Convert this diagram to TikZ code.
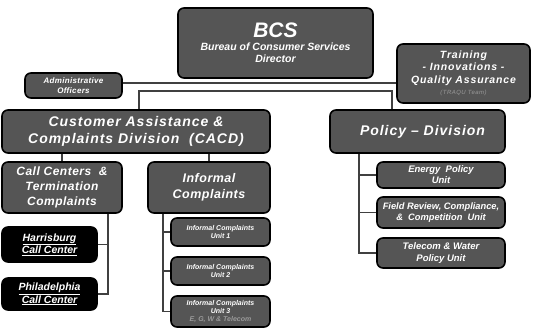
\documentclass[tikz,border=0pt]{standalone}
\usepackage{fontspec}
\setmainfont{Liberation Sans}
\newcommand{\fsz}[2]{\fontsize{#1}{#2}\selectfont}
\begin{document}
\begin{tikzpicture}[x=1pt,y=-1pt,
  box/.style={draw=black,line width=1.6pt,fill=boxgray,rounded corners=6pt,
    text=white,align=center,inner sep=0pt},
  callbox/.style={box,fill=black},
  link/.style={draw=linegray,line width=1.5pt}]
  \tikzstyle{every node}+=[inner sep=0pt]
  \definecolor{boxgray}{HTML}{555555}
  \definecolor{linegray}{HTML}{404040}
  \definecolor{subgray}{HTML}{9A9A9A}
  \useasboundingbox (0,0) rectangle (535,328);
  \node [box,minimum width=195pt,minimum height=70pt,
    font=\bfseries\itshape\fsz{10.5}{12}] (bcs) at (275.5,43)
    {{\fsz{21}{22}BCS}\\[1pt] Bureau of Consumer Services\\ Director};
  \node [box,minimum width=97pt,minimum height=25pt,
    font=\bfseries\itshape\fsz{8}{9.5}\addfontfeatures{LetterSpace=4}] (admin) at (73.5,85.5)
    {Administrative\\ Officers};
  \node [box,minimum width=133pt,minimum height=59pt,
    font=\bfseries\itshape\fsz{10.5}{12.5}\addfontfeatures{LetterSpace=8}] (train) at (463.5,73.5)
    {Training\\ - Innovations -\\ Quality Assurance\\[-1pt]
     {\color{subgray}\mdseries\fsz{6}{7}(TRAQU Team)}};
  \node [box,minimum width=268pt,minimum height=43pt,
    font=\bfseries\itshape\fsz{14}{17}\addfontfeatures{LetterSpace=7}] (cacd) at (136,131.5)
    {Customer Assistance \&\\ Complaints Division~~(CACD)};
  \node [box,minimum width=175pt,minimum height=43pt,
    font=\bfseries\itshape\fsz{14}{17}\addfontfeatures{LetterSpace=7}] (policy) at (417.5,131.5)
    {\hspace*{10pt}Policy -- Division};
  \node [box,minimum width=120pt,minimum height=51pt,
    font=\bfseries\itshape\fsz{12}{15}\addfontfeatures{LetterSpace=4}] (calls) at (62,187.5)
    {Call Centers~~\&\\ Termination\\ Complaints};
  \node [box,minimum width=122pt,minimum height=51pt,
    font=\bfseries\itshape\fsz{12.5}{15.5}\addfontfeatures{LetterSpace=4}] (informal) at (209,187.5)
    {Informal\\ Complaints};
  \node [callbox,minimum width=95pt,minimum height=35pt,
    font=\bfseries\itshape\fsz{10.5}{12.5}] (harris) at (49.5,244.5)
    {\underline{Harrisburg}\\ \underline{Call Center}};
  \node [callbox,minimum width=95pt,minimum height=32pt,
    font=\bfseries\itshape\fsz{10.5}{12.5}] (phila) at (49.5,294)
    {\underline{Philadelphia}\\ \underline{Call Center}};
  \node [box,minimum width=99pt,minimum height=28pt,
    font=\bfseries\itshape\fsz{7}{8.5}] (unitA) at (220.5,232)
    {Informal Complaints\\ Unit 1};
  \node [box,minimum width=99pt,minimum height=28pt,
    font=\bfseries\itshape\fsz{7}{8.5}] (unitB) at (220.5,271)
    {Informal Complaints\\ Unit 2};
  \node [box,minimum width=99pt,minimum height=31pt,
    font=\bfseries\itshape\fsz{7}{8}] (unitC) at (220.5,311.5)
    {Informal Complaints\\ Unit 3\\ {\color{subgray}E, G, W \& Telecom}};
  \node [box,minimum width=128pt,minimum height=26pt,
    font=\bfseries\itshape\fsz{9.5}{11}] (energy) at (441,175)
    {Energy~ Policy\\ Unit};
  \node [box,minimum width=128pt,minimum height=31pt,
    font=\bfseries\itshape\fsz{9.3}{11.5}] (field) at (441,212.5)
    {Field Review, Compliance,\\ \&~ Competition~ Unit};
  \node [box,minimum width=128pt,minimum height=30pt,
    font=\bfseries\itshape\fsz{9.5}{11.5}] (telecom) at (441,253)
    {Telecom \& Water\\ Policy Unit};
  \coordinate (topbus) at (0,83);
  \coordinate (divbus) at (0,91);
  \coordinate (cacdleg) at (139,0);
  \coordinate (policyleg) at (392,0);
  \coordinate (callleg) at (108,0);
  \coordinate (infleg) at (163,0);
  \coordinate (polleg) at (359,0);
  \draw [link] (admin.east |- topbus) -- (train.west |- topbus);
  \draw [link] (cacd.north -| cacdleg) |- (divbus -| policyleg) -- (policy.north -| policyleg);
  \draw [link] (cacd.south -| calls.north) -- (calls.north);
  \draw [link] (cacd.south -| informal.north) -- (informal.north);
  \draw [link] (calls.south -| callleg) |- (phila.east);
  \draw [link] (harris.east) -- (harris.east -| callleg);
  \draw [link] (informal.south -| infleg) |- (unitC.west);
  \draw [link] (unitA.west) -- (unitA.west -| infleg);
  \draw [link] (unitB.west) -- (unitB.west -| infleg);
  \draw [link] (policy.south -| polleg) |- (telecom.west);
  \draw [link] (energy.west) -- (energy.west -| polleg);
  \draw [link] (field.west) -- (field.west -| polleg);
\end{tikzpicture}
\end{document}
